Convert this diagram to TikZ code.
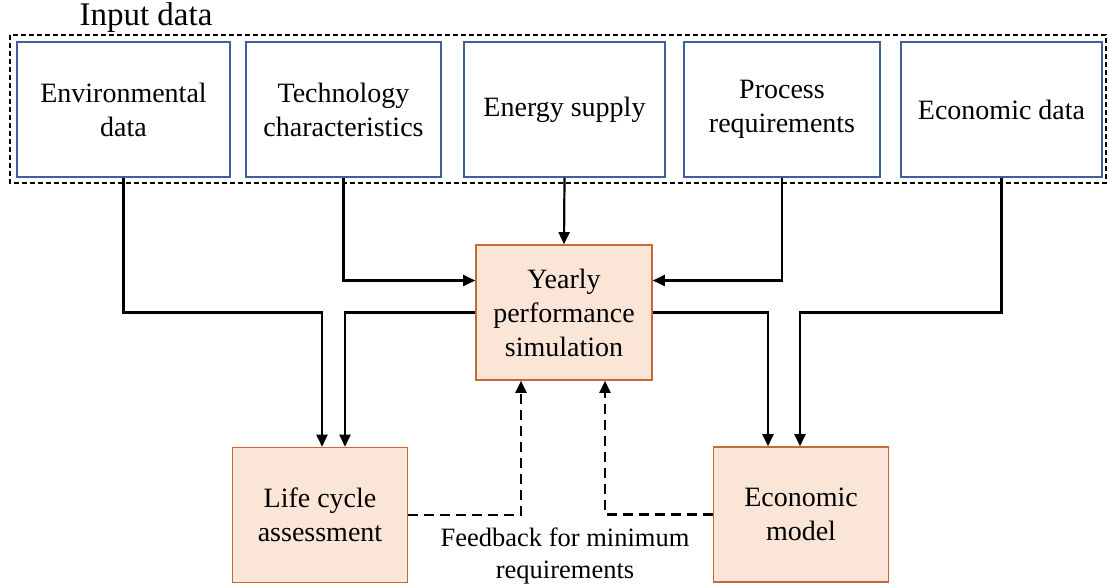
\documentclass[tikz,border=0pt]{standalone}
\usepackage{fontspec}
\setmainfont{Liberation Serif}
\usetikzlibrary{positioning,arrows.meta}
\definecolor{BoxBlue}{HTML}{3F5F98}
\definecolor{Rust}{HTML}{C46A3A}
\definecolor{Peach}{HTML}{FBE5D6}

\begin{document}
\begin{tikzpicture}[x=1pt,y=-1pt,
  every node/.style={font=\fontsize{28}{34}\selectfont},
  inbox/.style={draw=BoxBlue,line width=1.6pt,fill=white,align=center,minimum height=135pt,inner sep=2pt},
  modbox/.style={draw=Rust,line width=1.6pt,fill=Peach,align=center,minimum width=175pt,minimum height=135pt},
  arr/.style={-{Triangle[length=12pt,width=11pt]},line width=2.2pt},
  fbarr/.style={arr,dash pattern=on 10pt off 6pt}]
  \useasboundingbox (0,0) rectangle (1108,587);
  % input data
  \draw[line width=1.4pt,dash pattern=on 5pt off 3pt] (10,35) rectangle (1106,183);
  \node[font=\fontsize{33}{36}\selectfont] (intitle) at (146,18) {Input data};
  \node[inbox,minimum width=213pt] (env) at (123.5,109.5) {Environmental\\data};
  \node[inbox,minimum width=195pt] (tech) at (343.5,109.5) {Technology\\characteristics};
  \node[inbox,minimum width=201pt] (energy) at (564.5,109.5) {Energy supply};
  \node[inbox,minimum width=196pt] (proc) at (782,109.5) {Process\\requirements};
  \node[inbox,minimum width=201pt] (ecod) at (1001.5,109.5) {Economic data};
  % models
  \node[modbox,minimum width=176pt] (yearly) at (564,312.5) {Yearly\\performance\\simulation};
  \node[modbox] (lca) at (320,515) {Life cycle\\assessment};
  \node[modbox] (eco) at (801,514.5) {Economic\\model};
  \node[align=center,font=\fontsize{26.5}{32}\selectfont] (fb) at (565,556) {Feedback for minimum\\requirements};
  % connectors
  \draw[arr] (env.south) -- (env.south |- yearly.west) -| ([xshift=2pt]lca.north);
  \draw[arr] (tech.south) |- ([yshift=32pt]yearly.west);
  \draw[arr] (energy.south) -- (yearly.north);
  \draw[arr] (proc.south) |- ([yshift=32pt]yearly.east);
  \draw[arr] (ecod.south) -- (ecod.south |- yearly.east) -| ([xshift=-1pt]eco.north);
  \draw[arr] (yearly.west) -| ([xshift=25pt]lca.north);
  \draw[arr] (yearly.east) -| ([xshift=-33pt]eco.north);
  \draw[fbarr] (lca.east) -| ([xshift=-43pt]yearly.south);
  \draw[fbarr] (eco.west) -| ([xshift=41pt]yearly.south);
\end{tikzpicture}
\end{document}
